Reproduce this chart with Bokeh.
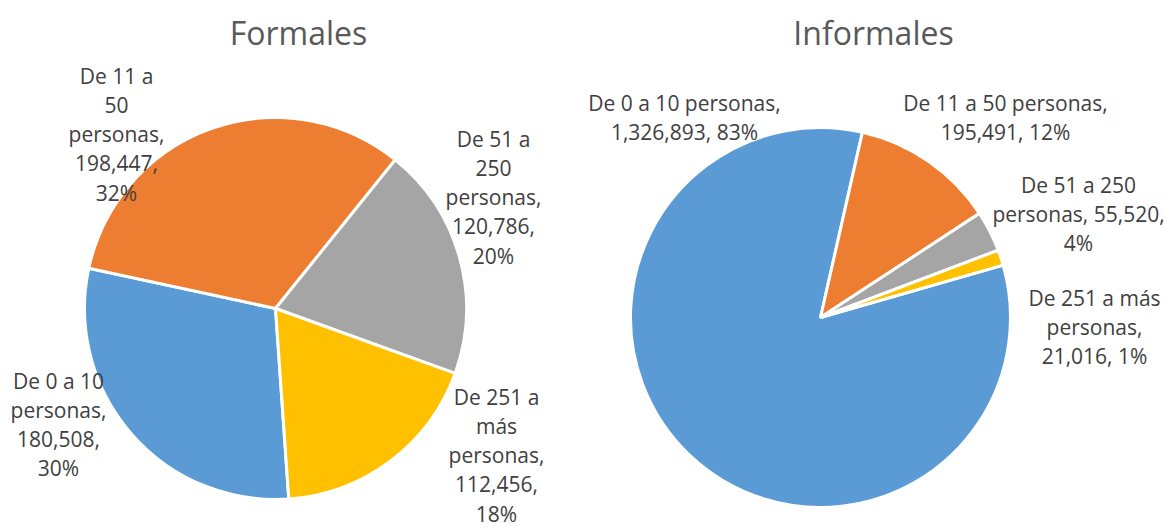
import math
from bokeh.plotting import figure
from bokeh.models import Range1d, ColumnDataSource
from bokeh.embed import file_html
from bokeh.resources import INLINE
from bokeh.core.properties import value

# ---- data ----
categories = ["De 0 a 10 personas", "De 11 a 50 personas",
              "De 51 a 250 personas", "De 251 a más personas"]
formales = [180508, 198447, 120786, 112456]
formales_pct = [30, 32, 20, 18]
informales = [1326893, 195491, 55520, 21016]
informales_pct = [83, 12, 4, 1]
colors = ["#5B9BD5", "#ED7D31", "#A5A5A5", "#FFC000"]
titles = ["Formales", "Informales"]

# ---- layout (pixel coordinates of the picture) ----
W, H = 1166, 524
FONT = "Open Sans"
LINE_STEP = 29.3

def sy(s):
    return H - s

pies = [
    dict(values=formales, pct=formales_pct, title=titles[0], cx=275, cy=308, r=191, first=176,
         title_x=298, title_y=32,
         labels=[(58, 380, [4, 1, 1, 1]), (116, 75, [3, 1, 1, 1, 1]),
                 (493, 138, [3, 1, 1, 1, 1]), (496, 396, [3, 1, 1, 1, 1])]),
    dict(values=informales, pct=informales_pct, title=titles[1], cx=820, cy=317, r=190, first=74,
         title_x=873, title_y=32,
         labels=[(684, 102, [5, 2]), (1005, 102, [5, 2]),
                 (1078, 184, [4, 2, 1]), (1094, 297, [4, 1, 2])]),
]

p = figure(width=W, height=H, x_range=Range1d(0, W), y_range=Range1d(0, H),
           output_backend="svg", toolbar_location=None,
           x_axis_type=None, y_axis_type=None, min_border=0)
p.grid.visible = False
p.outline_line_color = None
p.background_fill_color = "white"
p.border_fill_color = "white"

for pie in pies:
    vals = pie["values"]
    total = float(sum(vals))
    starts, ends = [], []
    acc = pie["first"]
    for v in vals:
        a0 = acc
        a1 = acc + 360.0 * v / total
        starts.append(math.radians(90 - a0))
        ends.append(math.radians(90 - a1))
        acc = a1
    src = ColumnDataSource(dict(x=[pie["cx"]] * len(vals), y=[sy(pie["cy"])] * len(vals),
                                start=starts, end=ends, color=colors))
    p.wedge(x="x", y="y", radius=pie["r"], start_angle="start", end_angle="end",
            direction="clock", fill_color="color", line_color="white", line_width=3,
            source=src)

    # title
    p.text(x=[pie["title_x"]], y=[sy(pie["title_y"])], text=[pie["title"]],
           text_font=value(FONT), text_font_size="32px", text_color="#595959",
           text_align="center", text_baseline="middle")

    # data labels
    lx, ly, lt = [], [], []
    for cat, v, pc, (x0, y0, groups) in zip(categories, vals, pie["pct"], pie["labels"]):
        words = f"{cat}, {v:,}, {pc}%".split(" ")
        i = 0
        for k, g in enumerate(groups):
            lt.append(" ".join(words[i:i + g]))
            i += g
            lx.append(x0)
            ly.append(sy(y0 + k * LINE_STEP))
    p.text(x=lx, y=ly, text=lt, text_font=value(FONT), text_font_size="21px",
           text_color="#404040", text_align="center", text_baseline="middle")

open("out.html", "w").write(file_html(p, INLINE))
